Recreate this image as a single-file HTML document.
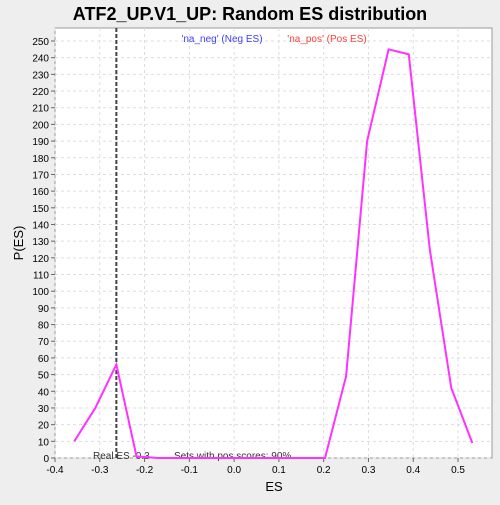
<!DOCTYPE html>
<html><head><style>
body{margin:0;background:#eeeeee;font-family:"Liberation Sans",sans-serif;}
svg text{font-family:"Liberation Sans",sans-serif;}
</style></head><body>
<svg id="c" width="500" height="500">
<text x="250" y="20" text-anchor="middle" font-size="18" font-weight="bold">ATF2_UP.V1_UP: Random ES distribution</text>
<rect x="55" y="28" width="437" height="430" fill="#fff" stroke="#999"/>
<g id="grid"></g><g id="axes"></g>
<text x="222" y="42" text-anchor="middle" font-size="10" fill="#4040ff">'na_neg' (Neg ES)</text>
<text x="327" y="42" text-anchor="middle" font-size="10" fill="#ff4040">'na_pos' (Pos ES)</text>
<text x="93" y="459" font-size="10" fill="#333">Real ES -0.3</text>
<text x="174" y="459" font-size="10" fill="#333">Sets with pos scores: 90%</text>
<text x="274" y="491" text-anchor="middle" font-size="13">ES</text>
<text x="23" y="243" text-anchor="middle" font-size="13" transform="rotate(-90 23 243)">P(ES)</text>
</svg>
<script>
const esValues=[-0.357,-0.31,-0.263,-0.218,-0.17,-0.12,-0.07,0.0,0.1,0.155,0.203,0.25,0.297,0.345,0.39,0.437,0.485,0.532];
const densities=[10,30,56,1,0,0,0,0,0,0,0,49,190,245,242,125,42,9];
const realES=-0.263;
const xTicks=[-0.4,-0.3,-0.2,-0.1,0.0,0.1,0.2,0.3,0.4,0.5];
const yTicks=[0,10,20,30,40,50,60,70,80,90,100,110,120,130,140,150,160,170,180,190,200,210,220,230,240,250];
const X=v=>55+(v+0.4)*447.8, Y=v=>458-v*1.668;
const NS="http://www.w3.org/2000/svg",svg=document.getElementById('c'),g=document.getElementById('grid'),ax=document.getElementById('axes');
function mk(t,a,p){const e=document.createElementNS(NS,t);for(const k in a)e.setAttribute(k,a[k]);(p||svg).appendChild(e);return e;}
xTicks.forEach(t=>{
 const l=mk('line',{x1:X(t),x2:X(t),y1:28,y2:458,stroke:'#ddd','stroke-dasharray':'3,3'},g);
 
 
 mk('line',{x1:X(t),x2:X(t),y1:458,y2:462,stroke:'#666'},ax);
 const tx=mk('text',{x:X(t),y:473,'text-anchor':'middle','font-size':'10'},ax);tx.textContent=t.toFixed(1);
 
 
});
yTicks.forEach(t=>{
 const l=mk('line',{x1:55,x2:492,y1:Y(t),y2:Y(t),stroke:'#ddd','stroke-dasharray':'3,3'},g);
 
 
 mk('line',{x1:51,x2:55,y1:Y(t),y2:Y(t),stroke:'#666'},ax);
 const tx=mk('text',{x:49,y:Y(t)+4,'text-anchor':'end','font-size':'10'},ax);tx.textContent=t;
 
 
});
const rl=mk('line',{x1:X(realES),x2:X(realES),y1:28,y2:458,stroke:'#444','stroke-width':2,'stroke-dasharray':'4,2'});


const pl=mk('polyline',{points:esValues.map((v,i)=>X(v)+','+Y(densities[i])).join(' '),fill:'none',stroke:'#ff33ff','stroke-width':2});


</script>
</body></html>
